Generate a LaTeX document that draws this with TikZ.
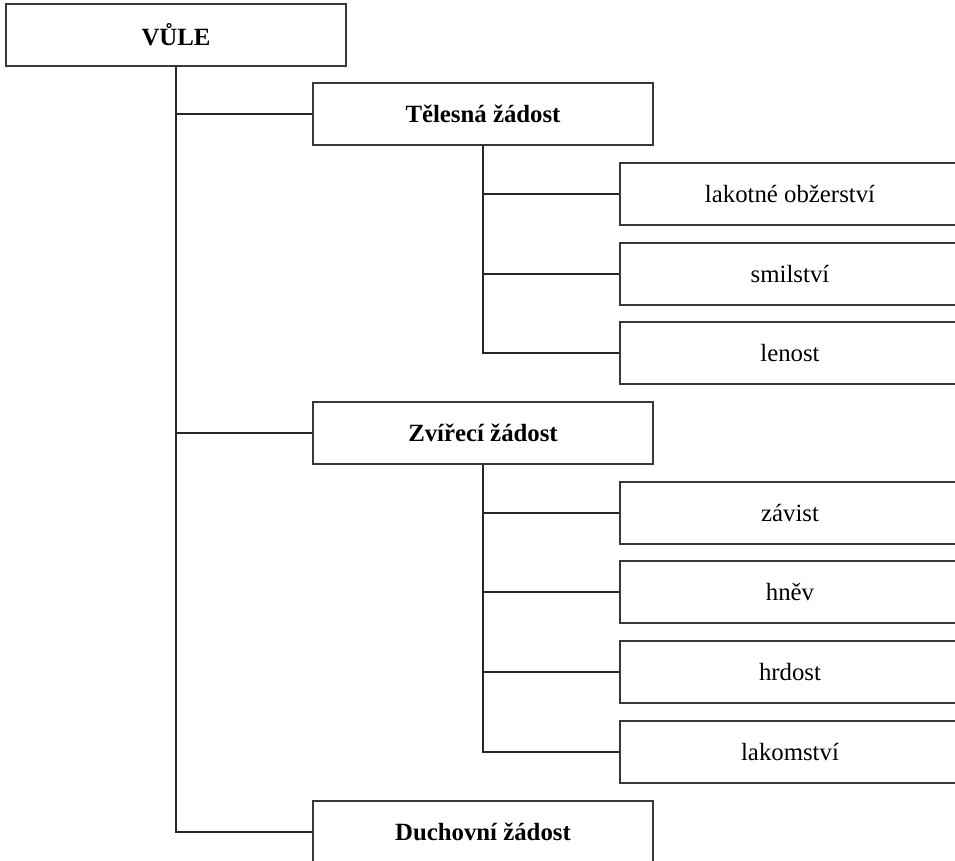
\documentclass[tikz,border=0pt]{standalone}
\usepackage{fontspec}
\setmainfont{Liberation Serif}
\begin{document}
\begin{tikzpicture}[x=1pt,y=-1pt,
  box/.style={draw=black!78, line width=2pt, fill=white, inner sep=0pt,
    minimum width=340pt, minimum height=62pt,
    font=\fontsize{24.8}{29}\selectfont},
  hbox/.style={box, font=\fontsize{24.8}{29}\selectfont\bfseries},
  conn/.style={draw=black!85, line width=1.7pt}]
\useasboundingbox (0,0) rectangle (955,860);
\clip (0,0) rectangle (955,860);
\node[hbox] (vule) at (176,35) {VŮLE};
\node[hbox] (tel) at (483,114) {Tělesná žádost};
\node[box] (lak) at (790,194) {lakotné obžerství};
\node[box] (smil) at (790,274) {smilství};
\node[box] (len) at (790,353) {lenost};
\node[hbox] (zvi) at (483,433) {Zvířecí žádost};
\node[box] (zav) at (790,513) {závist};
\node[box] (hnev) at (790,592) {hněv};
\node[box] (hrd) at (790,672) {hrdost};
\node[box] (lakom) at (790,752) {lakomství};
\node[hbox] (duch) at (483,832) {Duchovní žádost};
\draw[conn] (vule.south) |- (duch.west);
\draw[conn] (vule.south |- tel.west) -- (tel.west);
\draw[conn] (vule.south |- zvi.west) -- (zvi.west);
\draw[conn] (tel.south) |- (len.west);
\draw[conn] (tel.south |- lak.west) -- (lak.west);
\draw[conn] (tel.south |- smil.west) -- (smil.west);
\draw[conn] (zvi.south) |- (lakom.west);
\draw[conn] (zvi.south |- zav.west) -- (zav.west);
\draw[conn] (zvi.south |- hnev.west) -- (hnev.west);
\draw[conn] (zvi.south |- hrd.west) -- (hrd.west);
\end{tikzpicture}
\end{document}
